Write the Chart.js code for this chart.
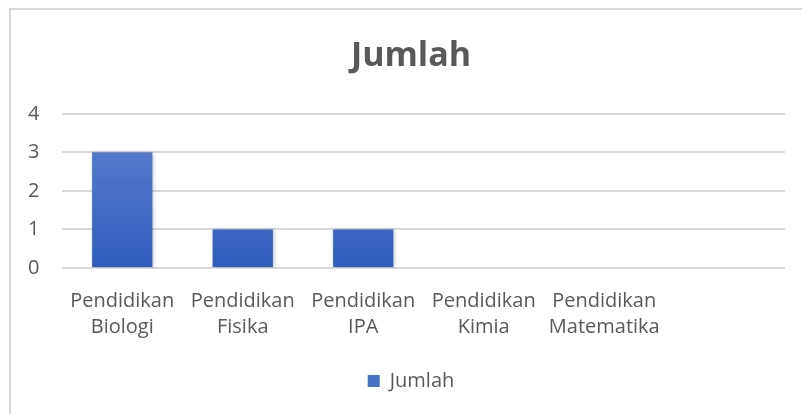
<!DOCTYPE html>
<html lang="id">
<head>
    <meta charset="UTF-8">
    <title>Jumlah</title>
    <script src="https://cdn.jsdelivr.net/npm/chart.js"></script>
    <style>
        html, body { margin: 0; padding: 0; background: #fff; overflow: hidden; }
        #wrap {
            position: absolute; left: 9px; top: 8px;
            width: 809px; height: 406px;
            border-top: 2px solid #d9d9d9; border-left: 2px solid #d9d9d9;
            box-sizing: border-box;
        }
    </style>
</head>
<body>
    <div id="wrap"><canvas id="chart"></canvas></div>
    <script>
        const categories = [
            ["Pendidikan", "Biologi"],
            ["Pendidikan", "Fisika"],
            ["Pendidikan", "IPA"],
            ["Pendidikan", "Kimia"],
            ["Pendidikan", "Matematika"],
            ""
        ];
        const jumlah = [3, 1, 1, 0, 0, null];
        const yMin = 0, yMax = 4, yStep = 1;

        const grey = '#595959';
        const fontFamily = '"Open Sans", "Liberation Sans", sans-serif';

        function barGradient(context) {
            const area = context.chart.chartArea;
            if (!area) return '#4472c4';
            const g = context.chart.ctx.createLinearGradient(0, area.top, 0, area.bottom);
            g.addColorStop(0, '#5f83cf');
            g.addColorStop(1, '#2e5dbd');
            return g;
        }

        // soft shadow round the bars, like the office chart
        const barShadow = {
            id: 'barShadow',
            beforeDatasetDraw(chart) {
                const ctx = chart.ctx;
                ctx.save();
                ctx.shadowColor = 'rgba(0,0,0,0.28)';
                ctx.shadowBlur = 4;
                ctx.shadowOffsetX = 1;
                ctx.shadowOffsetY = 1;
            },
            afterDatasetDraw(chart) {
                chart.ctx.restore();
            }
        };

        new Chart(document.getElementById('chart'), {
            type: 'bar',
            data: {
                labels: categories,
                datasets: [{
                    label: 'Jumlah',
                    data: jumlah,
                    backgroundColor: barGradient,
                    borderWidth: 0,
                    barPercentage: 0.5,
                    categoryPercentage: 1.0
                }]
            },
            options: {
                responsive: true,
                maintainAspectRatio: false,
                animation: false,
                layout: { padding: { top: 0, right: 33, bottom: 13, left: 26 } },
                plugins: {
                    title: {
                        display: true,
                        text: 'Jumlah',
                        color: grey,
                        font: { family: fontFamily, size: 34, weight: 'bold' },
                        padding: { top: 26, bottom: 37 }
                    },
                    legend: {
                        position: 'bottom',
                        labels: {
                            color: grey,
                            boxWidth: 12,
                            boxHeight: 12,
                            font: { family: fontFamily, size: 20 },
                            generateLabels(chart) {
                                return [{
                                    text: 'Jumlah',
                                    fillStyle: '#4472c4',
                                    strokeStyle: '#4472c4',
                                    lineWidth: 0,
                                    fontColor: grey,
                                    datasetIndex: 0
                                }];
                            }
                        }
                    },
                    tooltip: { enabled: false }
                },
                scales: {
                    x: {
                        grid: { display: false, drawTicks: false },
                        border: { display: false },
                        ticks: {
                            color: grey,
                            padding: 20,
                            maxRotation: 0,
                            autoSkip: false,
                            font: { family: fontFamily, size: 20, lineHeight: 1.3 }
                        },
                        afterFit(scale) { scale.height = 93; }
                    },
                    y: {
                        min: yMin,
                        max: yMax,
                        grid: { color: '#d9d9d9', lineWidth: 2, drawTicks: false },
                        border: { display: false },
                        ticks: {
                            stepSize: yStep,
                            color: grey,
                            mirror: true,
                            crossAlign: 'near',
                            padding: -34,
                            font: { family: fontFamily, size: 20 }
                        },
                        afterFit(scale) { scale.width = 25; }
                    }
                }
            },
            plugins: [barShadow]
        });
    </script>
</body>
</html>
